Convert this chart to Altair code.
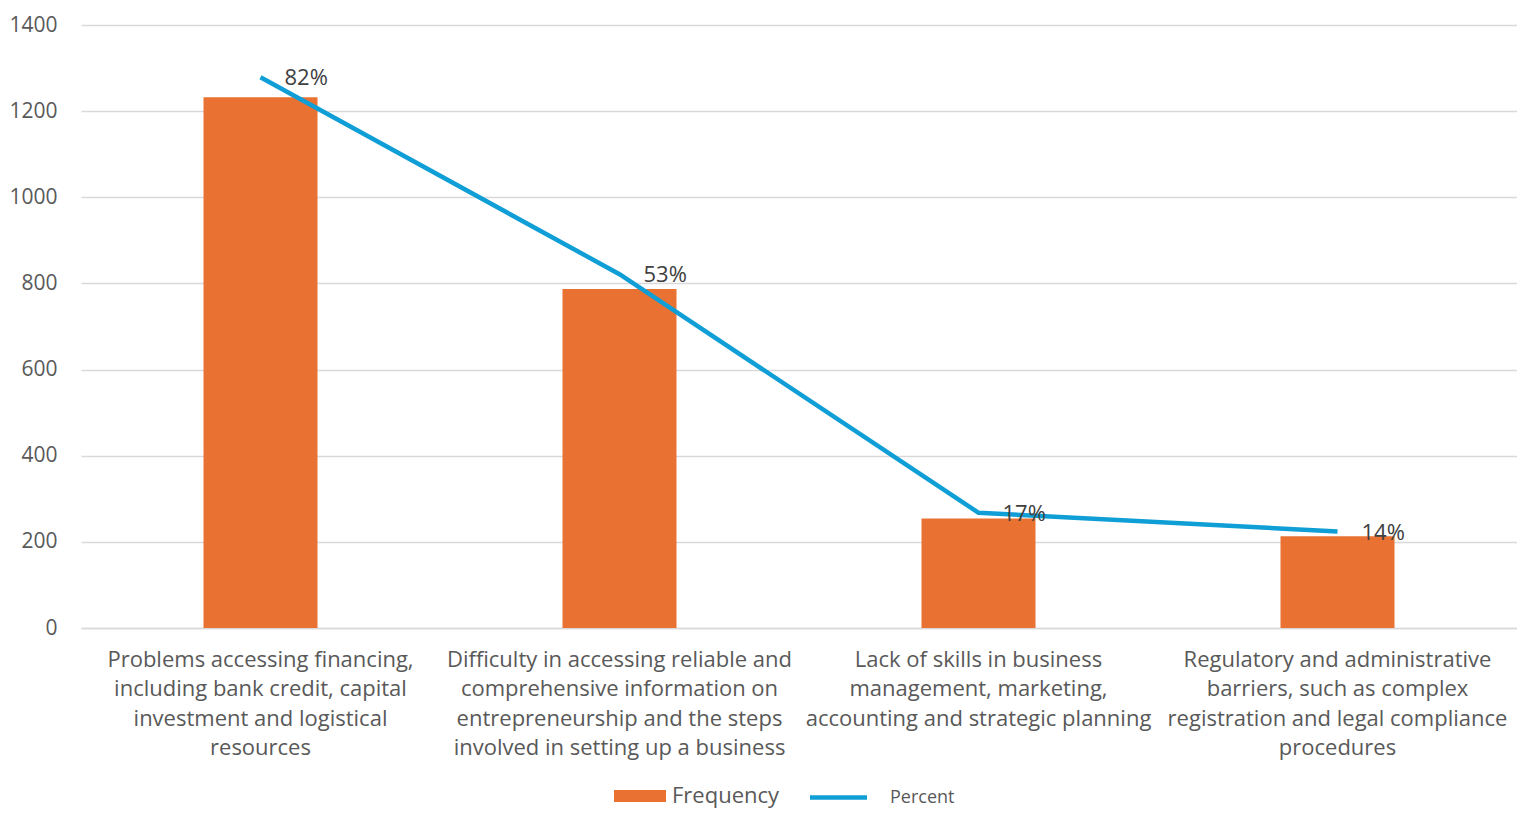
import altair as alt
import pandas as pd

categories = [
    "Problems accessing financing,|including bank credit, capital|investment and logistical|resources",
    "Difficulty in accessing reliable and|comprehensive information on|entrepreneurship and the steps|involved in setting up a business",
    "Lack of skills in business|management, marketing,|accounting and strategic planning",
    "Regulatory and administrative|barriers, such as complex|registration and legal compliance|procedures",
]
frequency = [1232, 787, 254, 213]
percent = [0.822, 0.528, 0.172, 0.144]

df = pd.DataFrame({"category": categories, "frequency": frequency, "percent": percent})

FONT = "Open Sans"
ORANGE = "#E97132"
BLUE = "#0F9ED5"

x = alt.X(
    "category:N",
    sort=categories,
    title=None,
    scale=alt.Scale(paddingInner=0, paddingOuter=0),
    axis=alt.Axis(
        labelExpr="split(datum.label, '|')",
        labelAngle=0,
        labelFontSize=22,
        labelFont=FONT,
        labelColor="#595959",
        labelLineHeight=29.5,
        labelPadding=21,
        labelBaseline="top",
        labelLimit=0,
        ticks=False,
        domainColor="#D9D9D9",
        domainWidth=1.3,
        grid=False,
    ),
)

bars = alt.Chart(df).mark_bar(width=114, color=ORANGE).encode(
    x=x,
    y=alt.Y(
        "frequency:Q",
        title=None,
        scale=alt.Scale(domain=[0, 1400]),
        axis=alt.Axis(
            values=[0, 200, 400, 600, 800, 1000, 1200, 1400],
            format="d",
            labelFontSize=21,
            labelFont=FONT,
            labelColor="#595959",
            labelPadding=24,
            ticks=False,
            domain=False,
            gridColor="#D9D9D9",
            gridWidth=1.3,
        ),
    ),
    color=alt.Color(
        "lab:N",
        scale=alt.Scale(domain=["Frequency"], range=[ORANGE]),
        legend=alt.Legend(
            title=None,
            orient="none",
            legendX=546,
            legendY=758,
            symbolType="M-2,-0.46L2,-0.46L2,0.46L-2,0.46Z",
            symbolSize=676,
            symbolStrokeWidth=0,
            labelFontSize=22,
            labelFont=FONT,
            labelColor="#595959",
            labelOffset=19,
            labelLimit=300,
        ),
    ),
).transform_calculate(lab="'Frequency'")

yp = alt.Y("percent:Q", scale=alt.Scale(domain=[0, 0.9]), axis=None)

line = alt.Chart(df).mark_line(strokeWidth=4.5, color=BLUE).encode(
    x=x,
    y=yp,
    stroke=alt.Stroke(
        "lab:N",
        scale=alt.Scale(domain=["Percent"], range=[BLUE]),
        legend=alt.Legend(
            title=None,
            orient="none",
            legendX=741,
            legendY=756,
            symbolType="M-2,0L2,0",
            symbolSize=812,
            symbolStrokeWidth=4.5,
            labelFontSize=18,
            labelFont=FONT,
            labelColor="#595959",
            labelOffset=35,
            labelLimit=300,
        ),
    ),
).transform_calculate(lab="'Percent'")

labels = alt.Chart(df).mark_text(
    align="left", baseline="middle", dx=24, dy=1, fontSize=22, font=FONT, color="#404040"
).encode(
    x=x,
    y=yp,
    text=alt.Text("percent:Q", format=".0%"),
)

chart = (
    alt.layer(bars, alt.layer(line, labels))
    .resolve_scale(y="independent", color="independent", stroke="independent")
    .properties(width=1436, height=603, padding={"top": 6, "left": 0, "right": 0, "bottom": 4})
    .configure_view(stroke=None)
)

chart.save("out.html", embed_options={"renderer": "svg", "actions": False})
